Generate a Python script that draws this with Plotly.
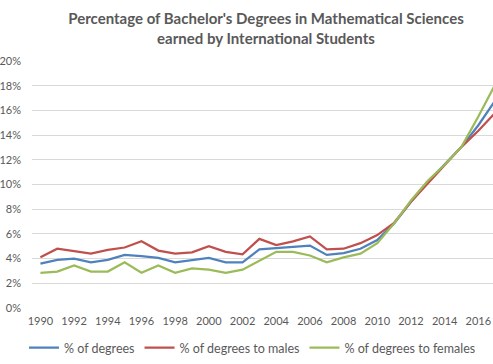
import plotly.graph_objects as go

years = list(range(1990, 2018))
pct_degrees = [3.6, 3.9, 4.0, 3.7, 3.9, 4.3, 4.2, 4.05, 3.7, 3.85, 4.05, 3.7, 3.7,
               4.75, 4.85, 4.95, 5.05, 4.3, 4.45, 4.8, 5.5, 6.85, 8.6, 10.2, 11.6,
               13.05, 14.8, 16.8]
pct_males = [4.1, 4.8, 4.6, 4.4, 4.7, 4.9, 5.4, 4.65, 4.4, 4.5, 5.0, 4.55, 4.35,
             5.6, 5.1, 5.4, 5.8, 4.75, 4.8, 5.25, 5.9, 6.9, 8.6, 10.1, 11.6,
             13.05, 14.35, 15.8]
pct_females = [2.85, 2.95, 3.45, 2.95, 2.95, 3.7, 2.85, 3.45, 2.85, 3.2, 3.1, 2.85, 3.1,
               3.8, 4.55, 4.55, 4.25, 3.7, 4.1, 4.4, 5.25, 6.85, 8.7, 10.3, 11.6,
               13.05, 15.5, 18.1]
series_names = ["% of degrees", "% of degrees to males", "% of degrees to females"]
colors = ["#4F81BD", "#C0504D", "#9BBB59"]
x_ticks = [y for y in years if y % 2 == 0 and y <= 2016]
y_ticks = [0, 2, 4, 6, 8, 10, 12, 14, 16, 18, 20]

fig = go.Figure()
for name, vals, c in zip(series_names, [pct_degrees, pct_males, pct_females], colors):
    fig.add_trace(go.Scatter(
        x=years, y=[v / 100 for v in vals], mode="lines", name=name,
        line=dict(color=c, width=2.25)))

font_family = "Lato, Open Sans, sans-serif"
fig.update_layout(
    width=493, height=364,
    margin=dict(l=32, r=0, t=61, b=56, autoexpand=False),
    paper_bgcolor="white", plot_bgcolor="white",
    font=dict(family=font_family, color="#595959", size=11),
    title=dict(
        text="<b>Percentage of Bachelor's Degrees in Mathematical Sciences<br>earned by International Students</b>",
        x=266 / 493, xanchor="center", xref="container",
        y=1 - 24 / 364, yanchor="middle", yref="container",
        font=dict(family=font_family, size=15, color="#595959")),
    xaxis=dict(range=[1989.5, 2016.87], tickmode="array", tickvals=x_ticks,
               showgrid=False, zeroline=False, showline=False, ticks="",
               automargin=False,
               tickfont=dict(size=11, color="#595959"), ticklabelstandoff=5),
    yaxis=dict(range=[0, 0.2], tickmode="array", tickvals=[t / 100 for t in y_ticks],
               tickformat=".0%", showgrid=True, gridcolor="#D9D9D9", gridwidth=1,
               zeroline=False, showline=False, ticks="", automargin=False,
               tickfont=dict(size=11, color="#595959"), ticklabelstandoff=10),
    legend=dict(orientation="h", x=24 / 493, xanchor="left", xref="container",
                y=16 / 364, yanchor="middle", yref="container",
                font=dict(size=12.5, color="#595959"), bgcolor="rgba(0,0,0,0)",
                itemwidth=30, tracegroupgap=0),
    showlegend=True,
)
fig.write_html("out.html", config={"displayModeBar": False},
               post_script="document.body.style.margin='0';document.body.style.padding='0';")
